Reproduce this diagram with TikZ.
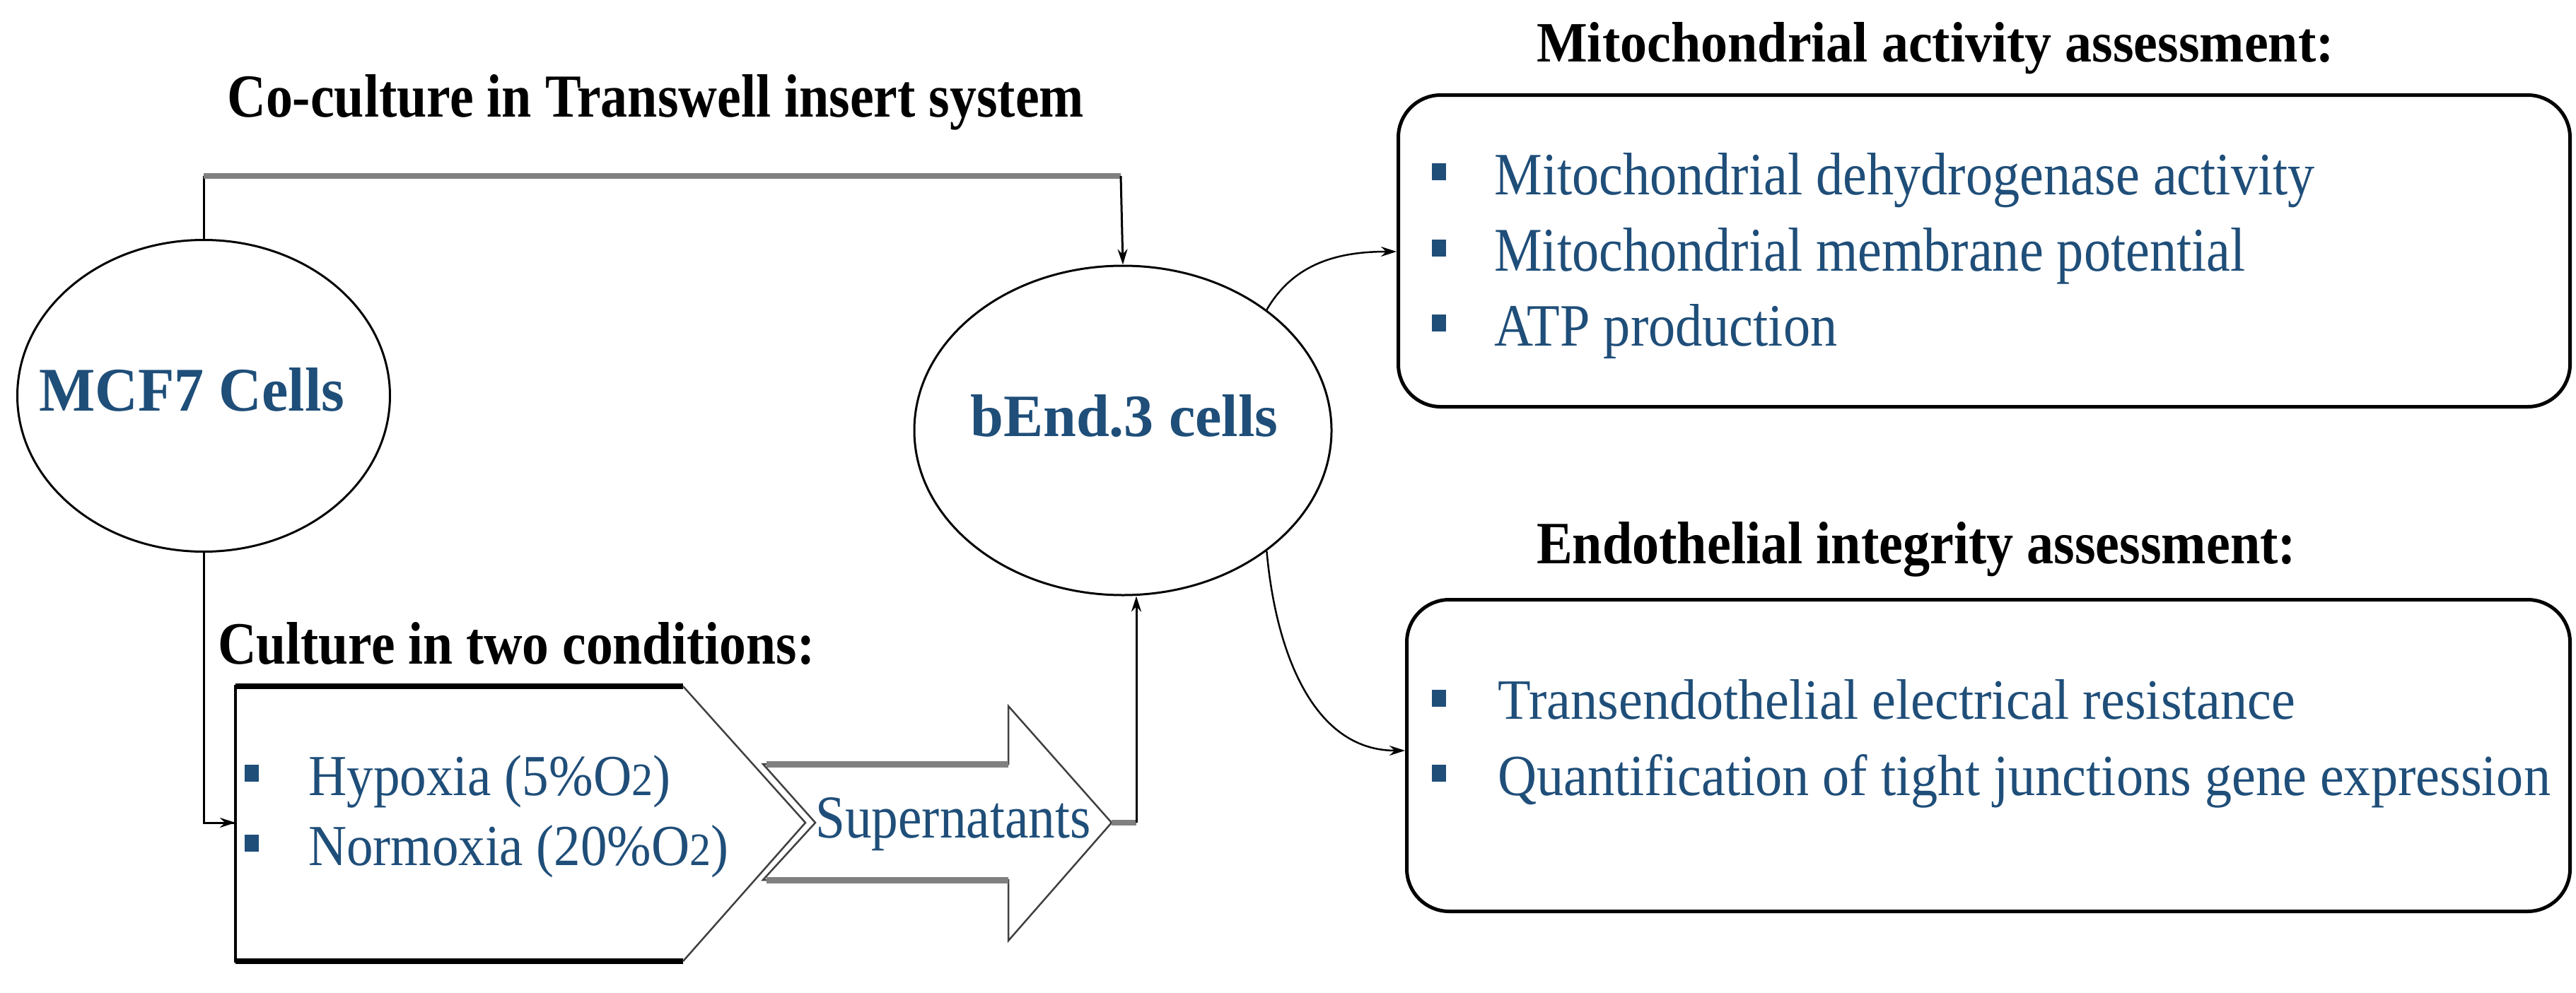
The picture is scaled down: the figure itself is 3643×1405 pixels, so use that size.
\documentclass[tikz,border=0pt]{standalone}
\usepackage{fontspec}
\setmainfont{Liberation Serif}
\usepackage{graphicx}
\usetikzlibrary{shapes.geometric,arrows.meta}
\definecolor{tblue}{HTML}{1F4E79}
\newcommand{\tx}[3]{\resizebox{#1pt}{#2pt}{#3}}
\begin{document}
\begin{tikzpicture}[x=1pt,y=-1pt,
  lbl/.style={inner sep=0,anchor=base west,font=\bfseries},
  itm/.style={inner sep=0,anchor=base west,text=tblue},
  bul/.style={fill=tblue,minimum width=20pt,minimum height=24pt,inner sep=0},
  cell/.style={ellipse,draw,line width=3pt,inner sep=0},
  box/.style={draw,line width=5pt,rounded corners=60pt},
  arr/.style={-{Stealth[length=22pt,width=14pt]},line width=3pt},
]
\useasboundingbox (0,0) rectangle (3643,1405);
% cells
\node[cell,minimum width=527pt,minimum height=441pt] (mcf) at (288,560) {};
\node[cell,minimum width=590pt,minimum height=466pt] (bend) at (1588,609) {};
\node[itm,font=\bfseries] (mcft) at (55,581) {\tx{432}{61}{MCF7 Cells}};
\node[itm,font=\bfseries] (bendt) at (1372,617) {\tx{435}{59}{bEnd.3 cells}};
% titles
\node[lbl] (t1) at (321,165) {\tx{1211}{60}{Co-culture in Transwell insert system}};
\node[lbl] (t2) at (308,939) {\tx{844}{59}{Culture in two conditions:}};
\node[lbl] (t3) at (2173,88) {\tx{1127}{56}{Mitochondrial activity assessment:}};
\node[lbl] (t4) at (2173,797) {\tx{1073}{59}{Endothelial integrity assessment:}};
% boxes
\node[box,minimum width=1657pt,minimum height=441pt,anchor=north west] (b1) at (1975,132) {};
\node[box,minimum width=1645pt,minimum height=441pt,anchor=north west] (b2) at (1987,846) {};
% pentagon
\draw[line width=4pt] (966,971) -- (333,971) -- (333,1360) -- (966,1360);
\draw[line width=8pt] (333,971) -- (966,971) (333,1360) -- (966,1360);
\draw[line width=2.5pt,black!75] (966,971) -- (1139,1164) -- (966,1360);
\coordinate (pin) at (333,1164);
% big arrow
\draw[line width=2.5pt,black!75] (1079,1081) -- (1426,1081) -- (1426,999) -- (1572,1164) -- (1426,1331) -- (1426,1245) -- (1079,1245) -- (1153,1164) -- cycle;
\draw[line width=9pt,black!50] (1084,1081) -- (1426,1081) (1084,1245) -- (1426,1245);
\coordinate (tip) at (1572,1164);
% texts in pentagon/arrow
\node[bul] (p1) at (356,1094) {};
\node[bul] (p2) at (356,1193) {};
\node[itm] (h) at (436,1125) {\tx{512}{57}{Hypoxia (5\%O{\footnotesize 2})}};
\node[itm] (n) at (436,1224) {\tx{594}{57}{Normoxia (20\%O{\footnotesize 2})}};
\node[itm] (s) at (1153,1185) {\tx{389}{57}{Supernatants}};
% box items
\node[bul] (a1) at (2035,243) {};
\node[bul] (a2) at (2035,351) {};
\node[bul] (a3) at (2035,457) {};
\node[itm] (i1) at (2113,275) {\tx{1160}{59}{Mitochondrial dehydrogenase activity}};
\node[itm] (i2) at (2113,383) {\tx{1062}{61}{Mitochondrial membrane potential}};
\node[itm] (i3) at (2113,489) {\tx{485}{59}{ATP production}};
\node[bul] (c1) at (2035,988) {};
\node[bul] (c2) at (2035,1094) {};
\node[itm] (j1) at (2118,1017) {\tx{1128}{56}{Transendothelial electrical resistance}};
\node[itm] (j2) at (2118,1125) {\tx{1488}{58}{Quantification of tight junctions gene expression}};
% connectors
\coordinate (k1) at (288,249);
\coordinate (k2) at (1585,249);
\draw[line width=3pt] (mcf.north) -- (k1);
\draw[line width=8pt,black!50] (k1) -- (k2);
\draw[arr] (k2) -- (bend.north);
\draw[line width=3pt] (mcf.south) |- (pin);
\draw[arr] (300,1164) -- (pin);
\coordinate (k3) at (1607,1164);
\draw[line width=8pt,black!50] (tip) -- (k3);
\draw[arr] (k3) -- (bend.south -| k3);
\draw[arr,line width=2.5pt] (bend.40) to[out=60,in=180] (b1.west |- 0,356);
\draw[arr,line width=2.5pt] (bend.-40) to[out=-85,in=180] (b2.west |- 0,1062);
\end{tikzpicture}
\end{document}
